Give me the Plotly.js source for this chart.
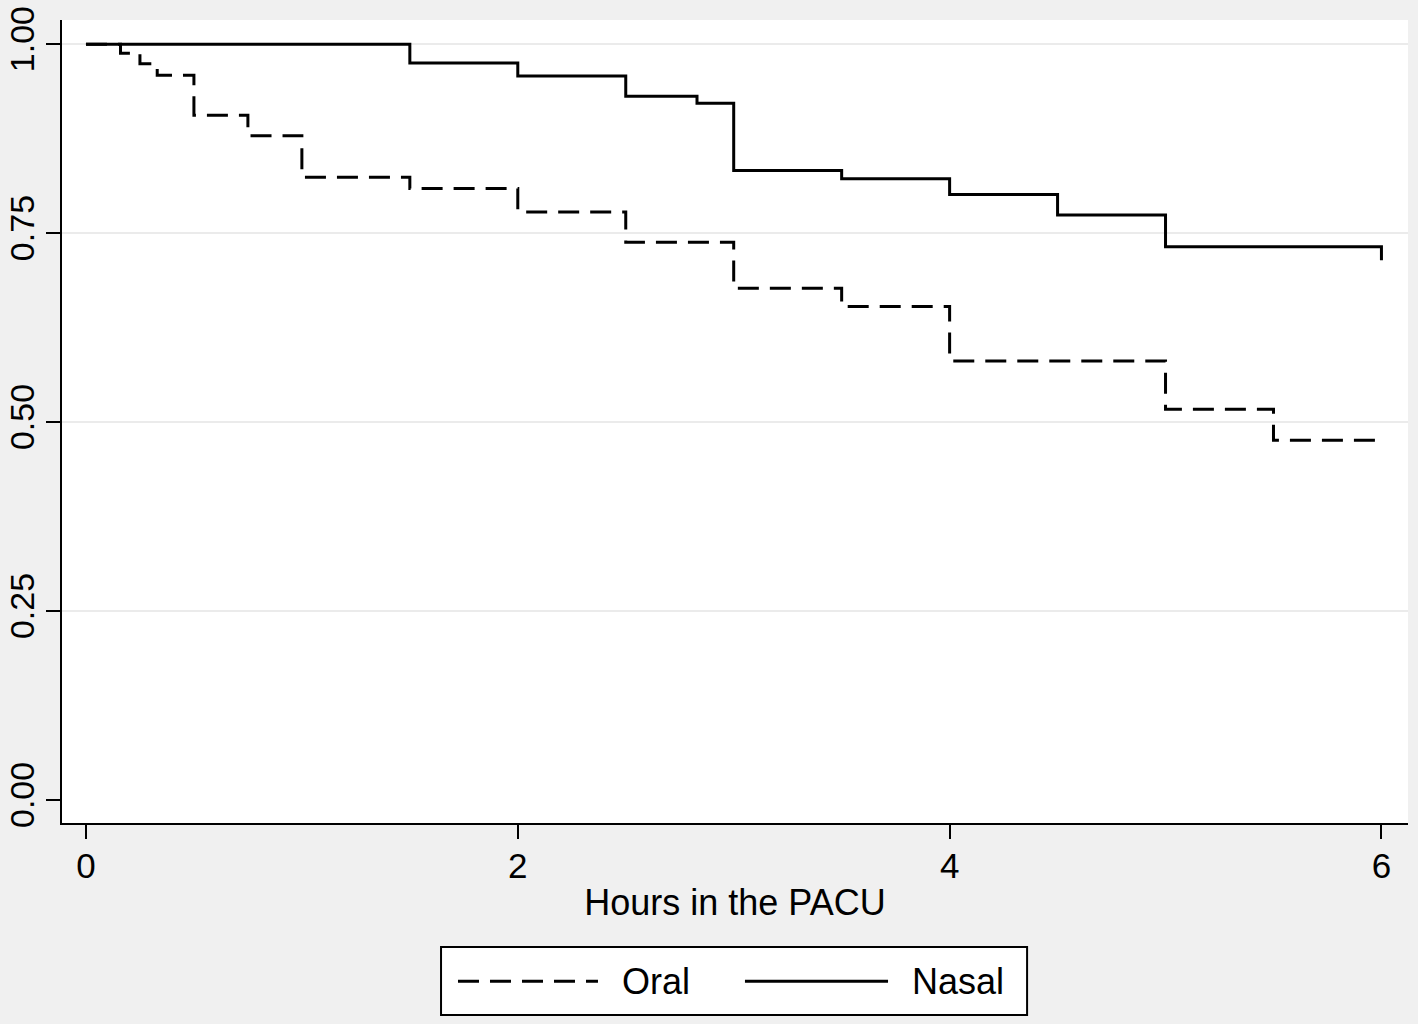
<!DOCTYPE html>
<html>
<head>
<meta charset="utf-8">
<script src="https://cdn.plot.ly/plotly-3.0.1.min.js"></script>
<style>
html,body{margin:0;padding:0;background:#f0f0f0;}
#chart{width:1418px;height:1024px;}
</style>
</head>
<body>
<div id="chart"></div>
<script>
// Kaplan-Meier style step data
const oralTime  = [0, 0.16, 0.25, 0.33, 0.5, 0.75, 1.0, 1.5, 2.0, 2.5, 3.0, 3.5, 4.0, 5.0, 5.5, 6.0];
const oralSurv  = [1.0, 0.988, 0.974, 0.959, 0.906, 0.879, 0.824, 0.809, 0.778, 0.738, 0.677, 0.653, 0.581, 0.517, 0.476, 0.476];
const nasalTime = [0, 1.5, 2.0, 2.5, 2.83, 3.0, 3.5, 4.0, 4.5, 5.0, 6.0, 6.0];
const nasalSurv = [1.0, 0.975, 0.958, 0.931, 0.922, 0.833, 0.822, 0.801, 0.774, 0.732, 0.732, 0.714];
const xTicks = [0, 2, 4, 6];
const yTicks = [0, 0.25, 0.5, 0.75, 1.0];
const yTickText = ["0.00", "0.25", "0.50", "0.75", "1.00"];
const gridVals = [0.25, 0.5, 0.75, 1.0];
const seriesNames = ["Oral", "Nasal"];
const xTitle = "Hours in the PACU";

const FONT = "Liberation Sans, Arial, Helvetica, sans-serif";
const yRange = [-0.0304, 1.032];
const xRange = [-0.111, 6.123];

const traces = [
  {x: oralTime, y: oralSurv, type: 'scatter', mode: 'lines', name: seriesNames[0],
   line: {shape: 'hv', color: '#000', width: 3, dash: '21px,11px'}, showlegend: false},
  {x: nasalTime, y: nasalSurv, type: 'scatter', mode: 'lines', name: seriesNames[1],
   line: {shape: 'hv', color: '#000', width: 3}, showlegend: false},
  // invisible trace to drive the grid overlay axis
  {x: [0], y: [0], yaxis: 'y2', mode: 'markers', marker: {opacity: 0}, showlegend: false, hoverinfo: 'skip'}
];

// legend drawn in paper coordinates
const legBox = {x0: 0.2816, x1: 0.717, y0: -0.2391, y1: -0.1544};
const legY = -0.197;
const layout = {
  width: 1418, height: 1024,
  paper_bgcolor: '#f0f0f0',
  plot_bgcolor: '#ffffff',
  margin: {l: 62, r: 10, t: 20, b: 201},
  font: {family: FONT, color: '#000', size: 35},
  showlegend: false,
  xaxis: {
    range: xRange, tickvals: xTicks, ticktext: xTicks.map(String),
    showgrid: false, zeroline: false,
    showline: true, linecolor: '#000', linewidth: 2,
    ticks: 'outside', ticklen: 14, tickwidth: 2, tickcolor: '#000',
    tickfont: {size: 35, family: FONT},
    ticklabelstandoff: -3,
    title: {text: xTitle, font: {size: 36, family: FONT}, standoff: 6}
  },
  yaxis: {
    range: yRange, tickvals: yTicks, ticktext: yTickText,
    showgrid: false, zeroline: false,
    showline: true, linecolor: '#000', linewidth: 2,
    ticks: 'outside', ticklen: 14, tickwidth: 2, tickcolor: '#000',
    tickangle: -90, tickfont: {size: 34, family: FONT},
    ticklabelstandoff: -2
  },
  yaxis2: {
    range: yRange, overlaying: 'y', tickvals: gridVals, showticklabels: false,
    ticks: '', showgrid: true, gridcolor: '#ebebeb', gridwidth: 2,
    zeroline: false, showline: false, layer: 'below traces'
  },
  shapes: [
    {type: 'rect', xref: 'paper', yref: 'paper', x0: legBox.x0, x1: legBox.x1, y0: legBox.y0, y1: legBox.y1,
     line: {color: '#000', width: 2}, fillcolor: '#fff', layer: 'above'},
    {type: 'line', xref: 'paper', yref: 'paper', x0: 0.2942, x1: 0.3982, y0: legY, y1: legY,
     line: {color: '#000', width: 3, dash: '21px,11px'}},
    {type: 'line', xref: 'paper', yref: 'paper', x0: 0.5074, x1: 0.6137, y0: legY, y1: legY,
     line: {color: '#000', width: 3}}
  ],
  annotations: [
    {xref: 'paper', yref: 'paper', x: 0.4146, y: legY, xanchor: 'left', yanchor: 'middle',
     text: seriesNames[0], showarrow: false, font: {size: 36, family: FONT, color: '#000'}},
    {xref: 'paper', yref: 'paper', x: 0.630, y: legY, xanchor: 'left', yanchor: 'middle',
     text: seriesNames[1], showarrow: false, font: {size: 36, family: FONT, color: '#000'}}
  ]
};

Plotly.newPlot('chart', traces, layout, {displayModeBar: false, staticPlot: true});
</script>
</body>
</html>
